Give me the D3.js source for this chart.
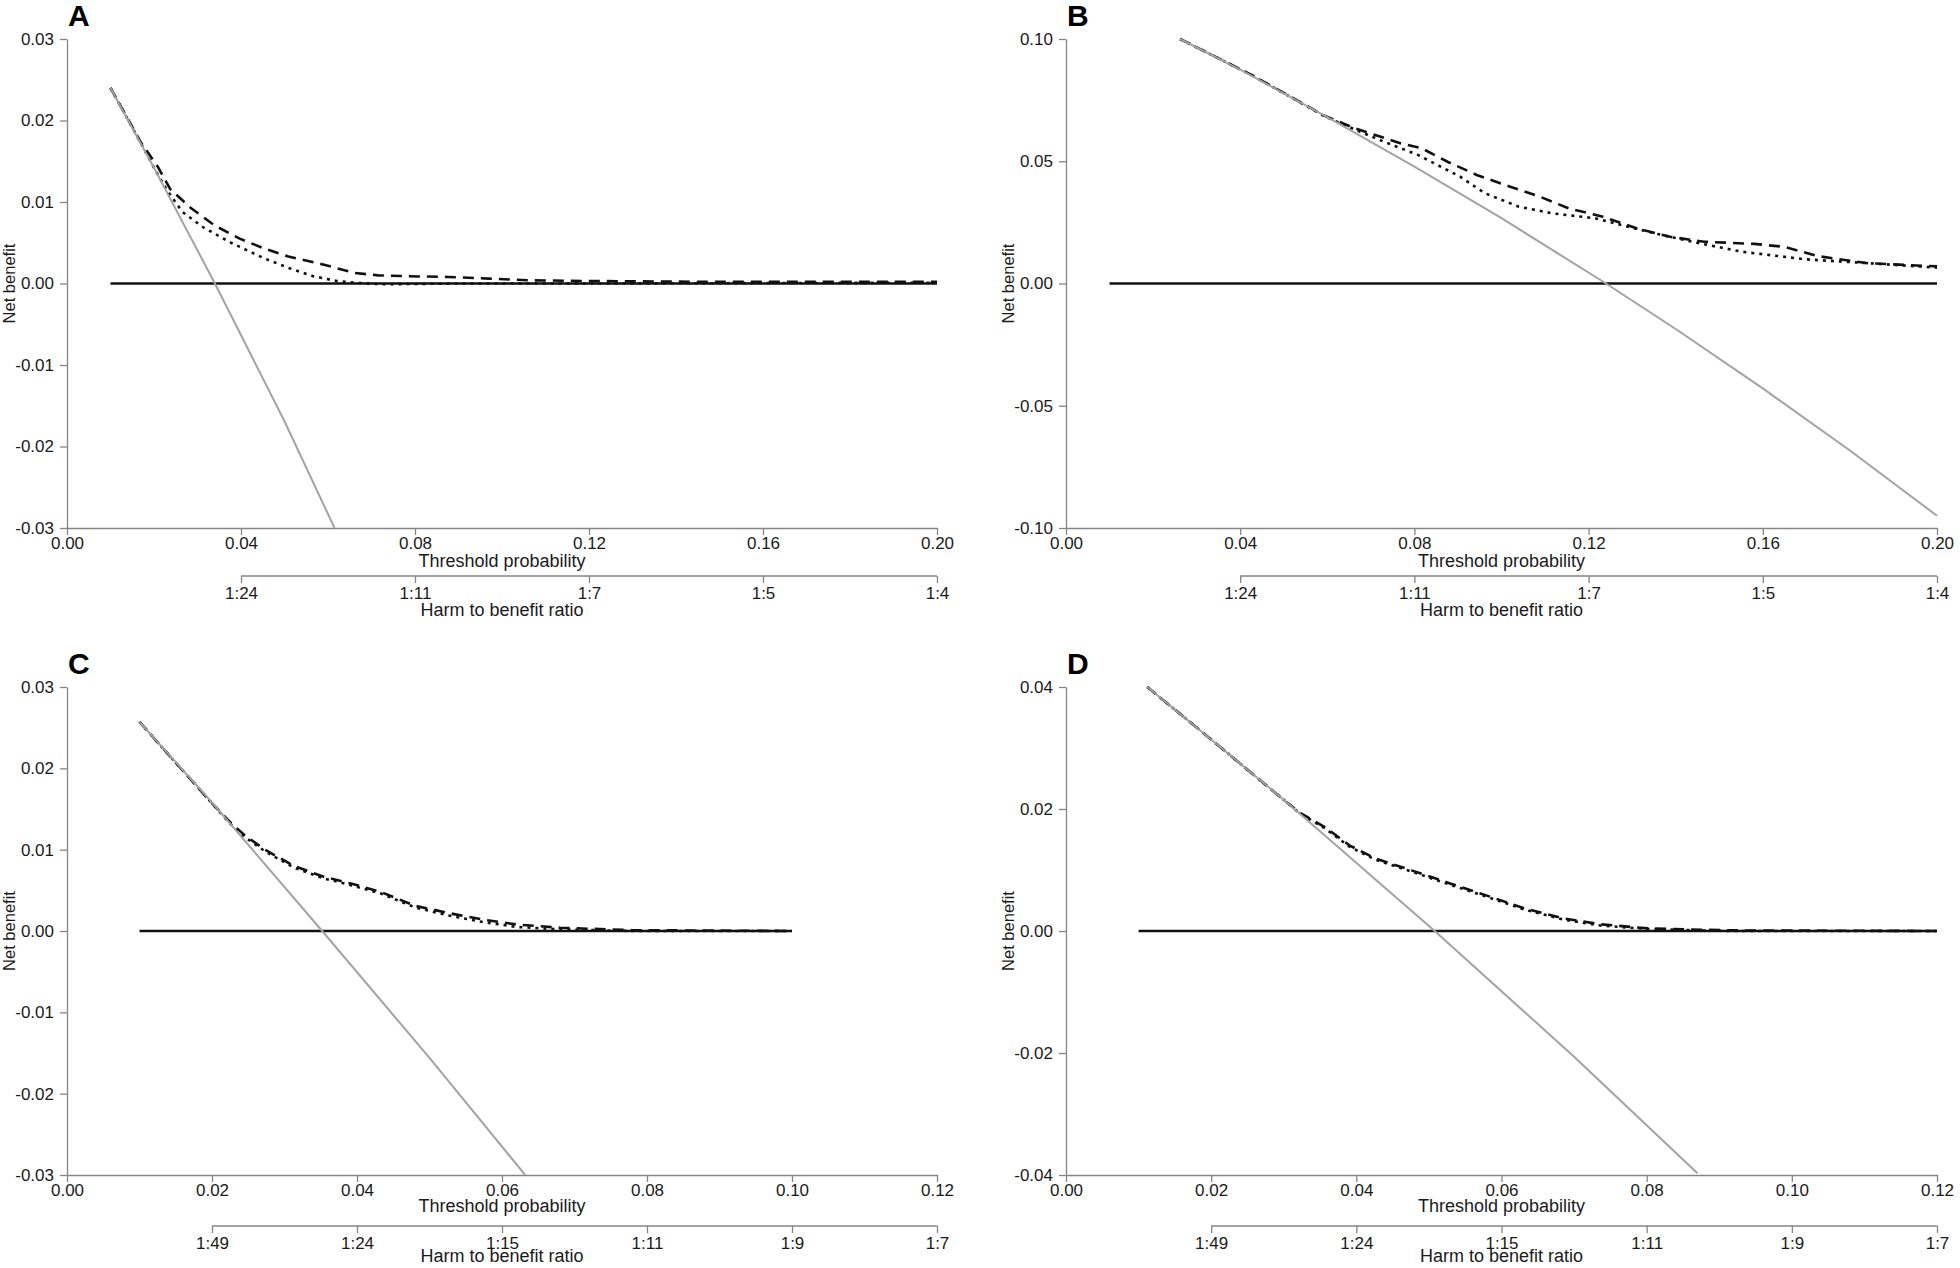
<!DOCTYPE html>
<html>
<head>
<meta charset="utf-8">
<script src="https://cdn.jsdelivr.net/npm/d3@7"></script>
<style>
  body { margin: 0; background: #fff; }
  svg { display: block; font-family: "Liberation Sans", Arial, Helvetica, sans-serif; }
</style>
</head>
<body>
<svg id="chart" width="1960" height="1268"></svg>
<script>
// ---- data: [threshold, net benefit] ----

// Panel A
const aTreatAll = [[0.01, 0.024], [0.02, 0.0142], [0.034, 0.0], [0.05, -0.0169], [0.0615, -0.030]];
const aTreatNone = [[0.01, 0], [0.20, 0]];
const aDashed = [[0.01, 0.024], [0.0171, 0.0172], [0.0209, 0.0143], [0.0237, 0.0116], [0.0284, 0.0093],
  [0.034, 0.0071], [0.0397, 0.0055], [0.0453, 0.0043], [0.0509, 0.0033], [0.0584, 0.0024],
  [0.066, 0.0013], [0.0715, 0.0010], [0.078, 0.0009], [0.0876, 0.0008], [0.097, 0.0006],
  [0.106, 0.0004], [0.12, 0.0003], [0.15, 0.0002], [0.20, 0.0002]];
const aDotted = [[0.01, 0.024], [0.0171, 0.0171], [0.020, 0.0142], [0.0228, 0.0116], [0.0265, 0.0088],
  [0.0313, 0.0069], [0.0377, 0.0050], [0.0453, 0.0031], [0.051, 0.0019], [0.0566, 0.0009],
  [0.062, 0.0003], [0.066, 0.0001], [0.0725, -0.0001], [0.09, 0.0], [0.12, 0.0], [0.20, 0.0001]];

// Panel B
const bTreatAll = [[0.0262, 0.100], [0.04, 0.0875], [0.06, 0.068], [0.08, 0.0478], [0.10, 0.0267],
  [0.124, 0.0], [0.14, -0.0186], [0.16, -0.0429], [0.18, -0.0683], [0.20, -0.095]];
const bTreatNone = [[0.01, 0], [0.20, 0]];
const bDashed = [[0.0262, 0.100], [0.0426, 0.0853], [0.0595, 0.0685], [0.0663, 0.0635], [0.0769, 0.0573],
  [0.0817, 0.0553], [0.0876, 0.0498], [0.0943, 0.0444], [0.102, 0.0396], [0.1088, 0.0355],
  [0.1155, 0.0307], [0.1233, 0.0273], [0.131, 0.0226], [0.1387, 0.0191], [0.1465, 0.0171],
  [0.158, 0.0162], [0.1649, 0.0150], [0.1726, 0.0112], [0.1842, 0.0083], [0.20, 0.0070]];
const bDotted = [[0.0262, 0.100], [0.0426, 0.0852], [0.0595, 0.0683], [0.0663, 0.0630], [0.073, 0.0580],
  [0.0808, 0.0526], [0.0905, 0.0437], [0.0962, 0.0369], [0.104, 0.0314], [0.1117, 0.0287],
  [0.1214, 0.0267], [0.129, 0.0232], [0.1369, 0.0198], [0.1456, 0.0164], [0.1552, 0.0130],
  [0.1697, 0.0099], [0.1842, 0.0083], [0.20, 0.0065]];

// Panel C
const cTreatAll = [[0.01, 0.0257], [0.02, 0.0158], [0.0352, 0.0], [0.05, -0.0156], [0.0632, -0.030]];
const cTreatNone = [[0.01, 0], [0.10, 0]];
const cDashed = [[0.01, 0.0257], [0.0199, 0.0158], [0.0226, 0.0133], [0.0246, 0.0117], [0.0273, 0.0100],
  [0.0313, 0.0080], [0.0353, 0.0067], [0.0393, 0.0058], [0.0433, 0.0048], [0.048, 0.0031],
  [0.0527, 0.0022], [0.0574, 0.0014], [0.062, 0.0008], [0.068, 0.0004], [0.078, 0.0001], [0.10, 0.0]];
const cDotted = [[0.01, 0.0257], [0.0199, 0.0158], [0.0226, 0.0131], [0.0246, 0.0115], [0.0273, 0.0098],
  [0.0313, 0.0078], [0.0353, 0.0065], [0.0393, 0.0056], [0.0433, 0.0046], [0.048, 0.0029],
  [0.0527, 0.0019], [0.0574, 0.0011], [0.062, 0.0005], [0.068, 0.0002], [0.078, 0.0], [0.10, 0.0]];

// Panel D
const dTreatAll = [[0.0112, 0.040], [0.02, 0.0314], [0.03, 0.0215], [0.0508, 0.0], [0.07, -0.0206], [0.087, -0.0397]];
const dTreatNone = [[0.01, 0], [0.12, 0]];
const dDashed = [[0.0112, 0.040], [0.02, 0.0314], [0.03, 0.0215], [0.0322, 0.0194], [0.0357, 0.0170],
  [0.0391, 0.0140], [0.0426, 0.0119], [0.0477, 0.0099], [0.0529, 0.0078], [0.058, 0.0058],
  [0.0632, 0.0037], [0.0684, 0.0021], [0.0736, 0.0011], [0.0805, 0.0004], [0.0915, 0.0001], [0.12, 0.0]];
const dDotted = [[0.0112, 0.040], [0.02, 0.0314], [0.03, 0.0215], [0.0322, 0.0193], [0.0357, 0.0168],
  [0.0391, 0.0138], [0.0426, 0.0117], [0.0477, 0.0097], [0.0529, 0.0076], [0.058, 0.0056],
  [0.0632, 0.0035], [0.0684, 0.0019], [0.0736, 0.0009], [0.0805, 0.0003], [0.0915, 0.0], [0.12, 0.0]];

// ticks and labels
const xTicksTop = [0, 0.04, 0.08, 0.12, 0.16, 0.20];
const xTicksBottom = [0, 0.02, 0.04, 0.06, 0.08, 0.10, 0.12];
const yTicksA = [-0.03, -0.02, -0.01, 0, 0.01, 0.02, 0.03];
const yTicksB = [-0.10, -0.05, 0, 0.05, 0.10];
const yTicksC = [-0.03, -0.02, -0.01, 0, 0.01, 0.02, 0.03];
const yTicksD = [-0.04, -0.02, 0, 0.02, 0.04];
const ratioTicksTop = [0.04, 0.08, 0.12, 0.16, 0.20];
const ratioLabelsTop = ["1:24", "1:11", "1:7", "1:5", "1:4"];
const ratioTicksBottom = [0.02, 0.04, 0.06, 0.08, 0.10, 0.12];
const ratioLabelsBottom = ["1:49", "1:24", "1:15", "1:11", "1:9", "1:7"];

// ---- layout ----
const topRow = { yTop: 39, yBot: 528, thr: 39, axis2: 48, harm: 88 };
const botRow = { yTop: 687, yBot: 1175, thr: 37, axis2: 51, harm: 87 };
const leftCol = { x0: 67, x1: 937 };
const rightCol = { x0: 1066, x1: 1937 };

const panels = [
  { tag: "A", row: topRow, col: leftCol, xTicks: xTicksTop, yTicks: yTicksA, rTicks: ratioTicksTop, rLabels: ratioLabelsTop,
    all: aTreatAll, none: aTreatNone, dashed: aDashed, dotted: aDotted },
  { tag: "B", row: topRow, col: rightCol, xTicks: xTicksTop, yTicks: yTicksB, rTicks: ratioTicksTop, rLabels: ratioLabelsTop,
    all: bTreatAll, none: bTreatNone, dashed: bDashed, dotted: bDotted },
  { tag: "C", row: botRow, col: leftCol, xTicks: xTicksBottom, yTicks: yTicksC, rTicks: ratioTicksBottom, rLabels: ratioLabelsBottom,
    all: cTreatAll, none: cTreatNone, dashed: cDashed, dotted: cDotted },
  { tag: "D", row: botRow, col: rightCol, xTicks: xTicksBottom, yTicks: yTicksD, rTicks: ratioTicksBottom, rLabels: ratioLabelsBottom,
    all: dTreatAll, none: dTreatNone, dashed: dDashed, dotted: dDotted }
];

const svg = d3.select("#chart");
const axisColor = "#858585";
const textColor = "#1a1a1a";
const fmt = d => d.toFixed(2);

function styleAxis(g) {
  g.selectAll(".domain").attr("stroke", axisColor).attr("stroke-width", 1.3);
  g.selectAll(".tick line").attr("stroke", axisColor).attr("stroke-width", 1.3);
  g.selectAll(".tick text").attr("fill", textColor).style("font-size", "17px");
}

panels.forEach(p => {
  const x = d3.scaleLinear()
    .domain(d3.extent(p.xTicks))
    .range([p.col.x0, p.col.x1]);
  const y = d3.scaleLinear()
    .domain(d3.extent(p.yTicks))
    .range([p.row.yBot, p.row.yTop]);

  const g = svg.append("g");

  // y axis
  g.append("g")
    .attr("transform", `translate(${p.col.x0},0)`)
    .call(d3.axisLeft(y).tickValues(p.yTicks).tickFormat(fmt).tickSize(7).tickSizeOuter(0).tickPadding(6))
    .call(styleAxis);

  // x axis
  g.append("g")
    .attr("transform", `translate(0,${p.row.yBot})`)
    .call(d3.axisBottom(x).tickValues(p.xTicks).tickFormat(fmt).tickSize(7).tickSizeOuter(0).tickPadding(2))
    .call(styleAxis);

  // harm to benefit ratio axis, only over its own tick span
  const axis2 = g.append("g")
    .attr("transform", `translate(0,${p.row.yBot + p.row.axis2})`)
    .call(d3.axisBottom(x).tickValues(p.rTicks).tickFormat((d, i) => p.rLabels[i]).tickSize(7).tickPadding(4))
    .call(styleAxis);
  axis2.select(".domain").remove();
  axis2.append("line")
    .attr("x1", x(p.rTicks[0]))
    .attr("x2", x(p.rTicks[p.rTicks.length - 1]))
    .attr("stroke", axisColor)
    .attr("stroke-width", 1.3);

  // axis titles
  const cx = (p.col.x0 + p.col.x1) / 2;
  g.append("text")
    .attr("x", cx).attr("y", p.row.yBot + p.row.thr)
    .attr("text-anchor", "middle").attr("fill", textColor)
    .style("font-size", "18px")
    .text("Threshold probability");
  g.append("text")
    .attr("x", cx).attr("y", p.row.yBot + p.row.harm)
    .attr("text-anchor", "middle").attr("fill", textColor)
    .style("font-size", "18px")
    .text("Harm to benefit ratio");
  g.append("text")
    .attr("transform", `translate(${p.col.x0 - 52},${(p.row.yTop + p.row.yBot) / 2}) rotate(-90)`)
    .attr("text-anchor", "middle").attr("fill", textColor)
    .style("font-size", "16.5px")
    .text("Net benefit");

  // panel letter
  g.append("text")
    .attr("x", p.col.x0 + 1).attr("y", p.row.yTop - 13)
    .attr("fill", "#000")
    .style("font-size", "30px").style("font-weight", "bold")
    .text(p.tag);

  // curves
  const line = d3.line().x(d => x(d[0])).y(d => y(d[1]));
  g.append("path").datum(p.none)
    .attr("d", line).attr("fill", "none")
    .attr("stroke", "#111").attr("stroke-width", 2.6);
  g.append("path").datum(p.dashed)
    .attr("d", line).attr("fill", "none")
    .attr("stroke", "#111").attr("stroke-width", 2.6)
    .attr("stroke-dasharray", "11,7");
  g.append("path").datum(p.dotted)
    .attr("d", line).attr("fill", "none")
    .attr("stroke", "#111").attr("stroke-width", 2.6)
    .attr("stroke-dasharray", "3,5");
  g.append("path").datum(p.all)
    .attr("d", line).attr("fill", "none")
    .attr("stroke", "#a3a3a3").attr("stroke-width", 2);
});
</script>
</body>
</html>
